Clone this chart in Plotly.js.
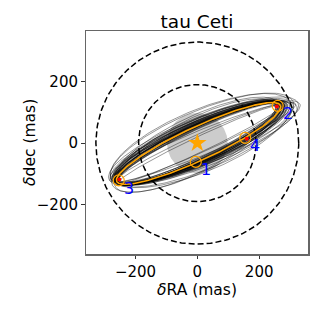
<!DOCTYPE html>
<html>
<head>
<meta charset="utf-8">
<script src="https://cdn.plot.ly/plotly-3.0.1.min.js"></script>
<style>html,body{margin:0;padding:0;background:#fff;}</style>
</head>
<body>
<div id="chart" style="width:319px;height:319px;"></div>
<script>
// Best-fit projected orbit (ellipse): centre, semi-axes (mas), position angle (deg)
const bestCx = 4, bestCy = -1, bestA = 292, bestB = 54, bestPA = 25;

// Posterior sample orbits
const sampleCx = [4,6,2,8,0,5,10,3,7,-2,12,4,1,9,6,3,15,5,8,0,11,4,2,7,13,5,9,6,3,7,1,10,4,8,2,6,20,25,10,5,15,25,-5,18,12,-8];
const sampleCy = [-1,0,-2,2,-3,1,3,0,-1,-4,4,2,-1,1,3,-2,5,-1,0,-2,2,1,0,2,3,-3,4,1,-2,1,-3,2,0,3,-1,2,6,5,0,-5,10,5,-5,3,8,-8];
const sampleA  = [292,295,288,300,285,296,305,290,298,282,310,294,289,302,297,291,318,293,299,286,307,295,290,301,312,294,303,296,292,300,287,306,293,298,289,297,330,330,300,290,320,318,300,325,315,290];
const sampleB  = [54,60,50,64,48,58,68,62,52,56,70,66,45,60,72,57,75,50,63,59,66,53,68,56,62,47,74,61,44,70,52,58,65,49,60,76,80,60,30,25,95,70,90,40,100,85];
const samplePA = [25,24.5,25.5,24,26,25,23.5,24.8,25.2,25.8,23,24.2,25.5,24.3,23.8,25.4,22.5,25,24.6,25.6,23.7,24.9,24.4,24.1,23.2,25.7,23.6,24.7,25.3,24.0,25.9,23.9,24.6,24.4,25.1,23.8,22,21.5,24.5,25.5,23,21,26,22.5,22.8,27];

// Reference circles (mas)
const circleRadii = [190, 328];
const diskRadius = 98;

// Observations (orange open circles), model positions (red dots), labels
const obsX = [-5, 260, -254, 155];
const obsY = [-61, 121, -121, 17];
const obsLabels = ["1", "2", "3", "4"];
const modelX = [257, -252, 160];
const modelY = [119, -118, 14];

const starX = [0], starY = [0];

function ellipse(cx, cy, a, b, paDeg, n) {
  const th = paDeg * Math.PI / 180, c = Math.cos(th), s = Math.sin(th);
  const xs = [], ys = [];
  for (let i = 0; i <= n; i++) {
    const t = 2 * Math.PI * i / n;
    const u = a * Math.cos(t), v = b * Math.sin(t);
    xs.push(cx + u * c - v * s);
    ys.push(cy + u * s + v * c);
  }
  return {x: xs, y: ys};
}

const traces = [];
// grey disk
const d = ellipse(0, 0, diskRadius, diskRadius, 0, 120);
traces.push({x: d.x, y: d.y, type: 'scatter', mode: 'lines', fill: 'toself',
  fillcolor: '#cccccc', line: {width: 0, color: 'rgba(0,0,0,0)'}, hoverinfo: 'skip', showlegend: false});

// sample orbits
for (let i = 0; i < sampleA.length; i++) {
  const e = ellipse(sampleCx[i], sampleCy[i], sampleA[i], sampleB[i], samplePA[i], 240);
  traces.push({x: e.x, y: e.y, type: 'scatter', mode: 'lines',
    line: {color: 'rgba(0,0,0,0.45)', width: 0.9}, hoverinfo: 'skip', showlegend: false});
}

// dashed circles
circleRadii.forEach(r => {
  const e = ellipse(0, 0, r, r, 0, 240);
  traces.push({x: e.x, y: e.y, type: 'scatter', mode: 'lines',
    line: {color: '#000', width: 1.5, dash: '6px,3px'}, hoverinfo: 'skip', showlegend: false});
});

// best orbit
const best = ellipse(bestCx, bestCy, bestA, bestB, bestPA, 300);
traces.push({x: best.x, y: best.y, type: 'scatter', mode: 'lines',
  line: {color: '#ffa500', width: 1.6}, showlegend: false});

// model positions
traces.push({x: modelX, y: modelY, type: 'scatter', mode: 'markers',
  marker: {color: '#ff0000', size: 4}, showlegend: false});

// observations
traces.push({x: obsX, y: obsY, type: 'scatter', mode: 'markers',
  marker: {symbol: 'circle-open', color: '#ffa500', size: 11, line: {width: 1.2, color: '#ffa500'}}, showlegend: false});

// star
traces.push({x: starX, y: starY, type: 'scatter', mode: 'markers',
  marker: {symbol: 'star', color: '#ffa500', size: 14, line: {width: 0}}, showlegend: false});

const annotations = obsLabels.map((t, i) => ({
  x: obsX[i], y: obsY[i], xref: 'x', yref: 'y', text: t, showarrow: false,
  xshift: 10, yshift: -8, font: {family: 'DejaVu Sans', size: 16, color: '#0000ff'}
}));
const titleFont = {family: 'DejaVu Sans', size: 15.5, color: '#000'};
annotations.push({text: '<i>\u03b4</i>RA (mas)', xref: 'paper', yref: 'paper', x: 0.5, y: -0.16,
  xanchor: 'center', yanchor: 'middle', showarrow: false, font: titleFont});
annotations.push({text: '<i>\u03b4</i>dec (mas)', xref: 'paper', yref: 'paper', x: -0.255, y: 0.5,
  xanchor: 'center', yanchor: 'middle', textangle: -90, showarrow: false, font: titleFont});

const font = {family: 'DejaVu Sans', size: 15, color: '#000'};
const layout = {
  width: 319, height: 319,
  margin: {l: 86, r: 11, t: 31, b: 65},
  paper_bgcolor: '#fff', plot_bgcolor: '#fff',
  font: font,
  title: {text: 'tau Ceti', font: {family: 'DejaVu Sans', size: 18.5, color: '#000'},
    x: 0.5, xref: 'paper', y: 0.933, yref: 'container', yanchor: 'middle', xanchor: 'center'},
  xaxis: {range: [-360, 358], tickvals: [-200, 0, 200], ticktext: ['\u2212200', '0', '200'],
    ticks: 'outside', ticklen: 3, tickwidth: 1, tickcolor: '#333',
    showline: true, linecolor: '#666', linewidth: 1.5, mirror: true,
    showgrid: false, zeroline: false, tickfont: font},
  yaxis: {range: [-360, 364], tickvals: [-200, 0, 200], ticktext: ['\u2212200', '0', '200'],
    ticks: 'outside', ticklen: 3.5, tickwidth: 1, tickcolor: '#333',
    showline: true, linecolor: '#666', linewidth: 1.5, mirror: true,
    showgrid: false, zeroline: false, tickfont: font},
  annotations: annotations
};

Plotly.newPlot('chart', traces, layout, {displayModeBar: false, staticPlot: true});
</script>
</body>
</html>
